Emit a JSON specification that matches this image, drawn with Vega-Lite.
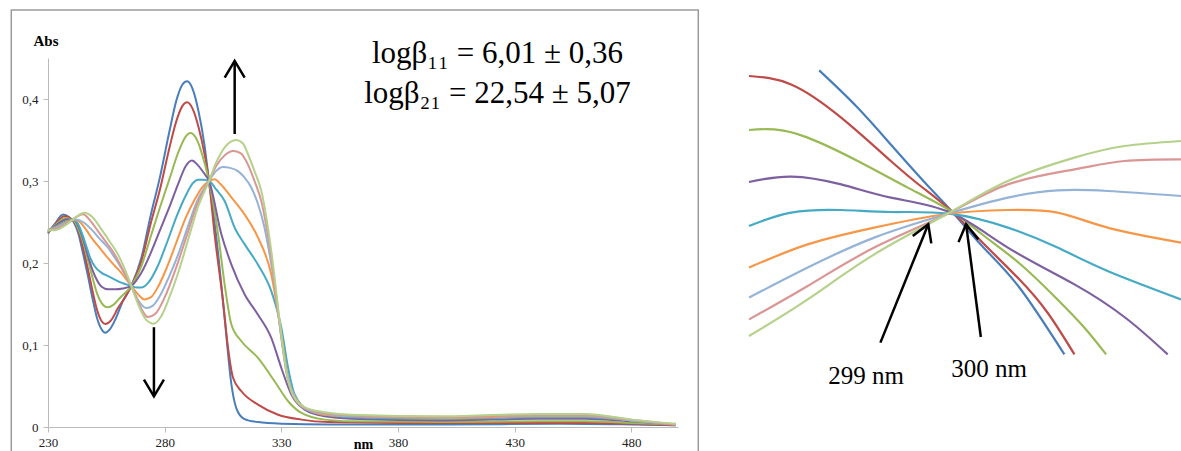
{
"$schema": "https://vega.github.io/schema/vega-lite/v6.json",
"padding": {"left": 10, "top": 9, "right": 0, "bottom": 0},
"config": {"view": {"stroke": null}, "font": "Liberation Serif"},
"spacing": 44,
"hconcat": [
{
"width": 630, "height": 369,
"layer": [
{
"data": {"values": [{"x1": 214.27, "x2": 508.7, "y1": 0.5084, "y2": -0.06}]},
"mark": {"type": "rect", "filled": false, "stroke": "#9a9a9a", "strokeWidth": 1.5, "clip": false},
"encoding": {
"x": {"field": "x1", "type": "quantitative", "scale": {"domain": [230, 500], "nice": false, "zero": false},
"axis": {"values": [230, 280, 330, 380, 430, 480], "labelFlush": false, "labelFont": "Liberation Serif", "labelFontSize": 13, "labelColor": "#222", "labelPadding": 4, "tickSize": 5, "tickColor": "#bbb", "domainColor": "#bbb", "grid": false, "title": "nm", "titleFont": "Liberation Serif", "titleFontSize": 14, "titleFontWeight": "bold", "titleX": 315, "titleY": 17, "titleAlign": "center", "titleBaseline": "middle"}},
"x2": {"field": "x2"},
"y": {"field": "y1", "type": "quantitative", "scale": {"domain": [0, 0.45], "nice": false, "zero": false},
"axis": {"values": [0, 0.1, 0.2, 0.3, 0.4], "labelFlush": false, "labelExpr": "datum.value == 0 ? '0' : replace(format(datum.value, '.1f'), '.', ',')", "labelFont": "Liberation Serif", "labelFontSize": 13, "labelColor": "#222", "labelPadding": 5, "tickSize": 5, "tickColor": "#bbb", "domainColor": "#bbb", "grid": false, "title": "Abs", "titleFont": "Liberation Serif", "titleFontSize": 15, "titleFontWeight": "bold", "titleAngle": 0, "titleAlign": "left", "titleBaseline": "middle", "titleX": -15, "titleY": -18}},
"y2": {"field": "y2"}
}
},
{
"data": {"values": [
{"s":"s1","x":230,"y":0.236},{"s":"s1","x":233,"y":0.248},{"s":"s1","x":236.5,"y":0.259},{"s":"s1","x":239,"y":0.256},{"s":"s1","x":241,"y":0.250},{"s":"s1","x":243,"y":0.236},{"s":"s1","x":245,"y":0.212},{"s":"s1","x":247,"y":0.186},{"s":"s1","x":249,"y":0.158},{"s":"s1","x":251,"y":0.133},{"s":"s1","x":253,"y":0.119},{"s":"s1","x":254.5,"y":0.115},{"s":"s1","x":256.5,"y":0.119},{"s":"s1","x":259,"y":0.132},{"s":"s1","x":262,"y":0.153},{"s":"s1","x":265.7,"y":0.172},{"s":"s1","x":270,"y":0.206},{"s":"s1","x":274,"y":0.258},{"s":"s1","x":278,"y":0.305},{"s":"s1","x":282,"y":0.360},{"s":"s1","x":285,"y":0.398},{"s":"s1","x":287.5,"y":0.417},{"s":"s1","x":289.6,"y":0.4215},{"s":"s1","x":292,"y":0.412},{"s":"s1","x":294.5,"y":0.385},{"s":"s1","x":297,"y":0.345},{"s":"s1","x":299,"y":0.300},{"s":"s1","x":302,"y":0.235},{"s":"s1","x":305.7,"y":0.133},{"s":"s1","x":308.6,"y":0.052},{"s":"s1","x":310.7,"y":0.023},{"s":"s1","x":314,"y":0.010},{"s":"s1","x":320,"y":0.006},{"s":"s1","x":330,"y":0.004},{"s":"s1","x":350,"y":0.003},{"s":"s1","x":400,"y":0.003},{"s":"s1","x":450,"y":0.004},{"s":"s1","x":480,"y":0.003},{"s":"s1","x":499,"y":0.002},
{"s":"s2","x":230,"y":0.237},{"s":"s2","x":233,"y":0.247},{"s":"s2","x":237,"y":0.257},{"s":"s2","x":241,"y":0.251},{"s":"s2","x":243,"y":0.240},{"s":"s2","x":245,"y":0.219},{"s":"s2","x":247,"y":0.194},{"s":"s2","x":249,"y":0.167},{"s":"s2","x":251,"y":0.143},{"s":"s2","x":253,"y":0.129},{"s":"s2","x":254.6,"y":0.1256},{"s":"s2","x":257,"y":0.130},{"s":"s2","x":260,"y":0.145},{"s":"s2","x":263,"y":0.158},{"s":"s2","x":265.7,"y":0.172},{"s":"s2","x":270,"y":0.202},{"s":"s2","x":274,"y":0.248},{"s":"s2","x":278,"y":0.290},{"s":"s2","x":282,"y":0.340},{"s":"s2","x":285,"y":0.373},{"s":"s2","x":287.5,"y":0.391},{"s":"s2","x":289.6,"y":0.396},{"s":"s2","x":292,"y":0.388},{"s":"s2","x":294.5,"y":0.366},{"s":"s2","x":297,"y":0.334},{"s":"s2","x":299,"y":0.300},{"s":"s2","x":301.4,"y":0.235},{"s":"s2","x":305,"y":0.1535},{"s":"s2","x":307,"y":0.100},{"s":"s2","x":309.3,"y":0.060},{"s":"s2","x":312.9,"y":0.0436},{"s":"s2","x":320,"y":0.0273},{"s":"s2","x":328.6,"y":0.015},{"s":"s2","x":338.6,"y":0.009},{"s":"s2","x":350,"y":0.006},{"s":"s2","x":380,"y":0.005},{"s":"s2","x":430,"y":0.005},{"s":"s2","x":460,"y":0.005},{"s":"s2","x":480,"y":0.004},{"s":"s2","x":499,"y":0.002},
{"s":"s3","x":230,"y":0.238},{"s":"s3","x":233,"y":0.246},{"s":"s3","x":237.5,"y":0.255},{"s":"s3","x":241,"y":0.252},{"s":"s3","x":243,"y":0.242},{"s":"s3","x":245,"y":0.226},{"s":"s3","x":247,"y":0.205},{"s":"s3","x":249,"y":0.183},{"s":"s3","x":251,"y":0.163},{"s":"s3","x":253,"y":0.151},{"s":"s3","x":255.5,"y":0.146},{"s":"s3","x":258,"y":0.149},{"s":"s3","x":261,"y":0.158},{"s":"s3","x":265.7,"y":0.172},{"s":"s3","x":270,"y":0.196},{"s":"s3","x":274,"y":0.232},{"s":"s3","x":278,"y":0.268},{"s":"s3","x":282,"y":0.302},{"s":"s3","x":286,"y":0.336},{"s":"s3","x":289,"y":0.354},{"s":"s3","x":291,"y":0.3585},{"s":"s3","x":293.5,"y":0.352},{"s":"s3","x":296,"y":0.333},{"s":"s3","x":299,"y":0.300},{"s":"s3","x":302.9,"y":0.235},{"s":"s3","x":305.7,"y":0.174},{"s":"s3","x":308.6,"y":0.125},{"s":"s3","x":312.9,"y":0.1046},{"s":"s3","x":320,"y":0.0843},{"s":"s3","x":327.1,"y":0.0558},{"s":"s3","x":332.9,"y":0.0314},{"s":"s3","x":338.6,"y":0.0171},{"s":"s3","x":348.6,"y":0.009},{"s":"s3","x":360,"y":0.007},{"s":"s3","x":400,"y":0.006},{"s":"s3","x":440,"y":0.007},{"s":"s3","x":460,"y":0.007},{"s":"s3","x":480,"y":0.005},{"s":"s3","x":499,"y":0.003},
{"s":"s4","x":230,"y":0.239},{"s":"s4","x":233,"y":0.245},{"s":"s4","x":238,"y":0.253},{"s":"s4","x":241,"y":0.253},{"s":"s4","x":243,"y":0.245},{"s":"s4","x":245,"y":0.230},{"s":"s4","x":247,"y":0.210},{"s":"s4","x":249,"y":0.192},{"s":"s4","x":251,"y":0.179},{"s":"s4","x":253,"y":0.171},{"s":"s4","x":255.7,"y":0.168},{"s":"s4","x":259,"y":0.168},{"s":"s4","x":262,"y":0.169},{"s":"s4","x":265.7,"y":0.172},{"s":"s4","x":270,"y":0.188},{"s":"s4","x":274,"y":0.212},{"s":"s4","x":278,"y":0.240},{"s":"s4","x":282,"y":0.268},{"s":"s4","x":286,"y":0.298},{"s":"s4","x":289,"y":0.318},{"s":"s4","x":291.7,"y":0.325},{"s":"s4","x":294,"y":0.320},{"s":"s4","x":296.5,"y":0.311},{"s":"s4","x":299,"y":0.300},{"s":"s4","x":304.3,"y":0.235},{"s":"s4","x":308.6,"y":0.198},{"s":"s4","x":314.3,"y":0.1617},{"s":"s4","x":320,"y":0.137},{"s":"s4","x":325.7,"y":0.1087},{"s":"s4","x":330,"y":0.072},{"s":"s4","x":334.3,"y":0.0396},{"s":"s4","x":340,"y":0.0212},{"s":"s4","x":348.6,"y":0.013},{"s":"s4","x":360,"y":0.010},{"s":"s4","x":400,"y":0.008},{"s":"s4","x":440,"y":0.010},{"s":"s4","x":460,"y":0.010},{"s":"s4","x":480,"y":0.007},{"s":"s4","x":499,"y":0.003},
{"s":"s5","x":230,"y":0.240},{"s":"s5","x":233,"y":0.244},{"s":"s5","x":238,"y":0.251},{"s":"s5","x":241,"y":0.253},{"s":"s5","x":243,"y":0.247},{"s":"s5","x":245.7,"y":0.2267},{"s":"s5","x":248,"y":0.207},{"s":"s5","x":250,"y":0.196},{"s":"s5","x":253,"y":0.188},{"s":"s5","x":255.7,"y":0.184},{"s":"s5","x":258.5,"y":0.180},{"s":"s5","x":261.4,"y":0.176},{"s":"s5","x":265.7,"y":0.172},{"s":"s5","x":268,"y":0.170},{"s":"s5","x":270,"y":0.170},{"s":"s5","x":273,"y":0.176},{"s":"s5","x":277,"y":0.196},{"s":"s5","x":281,"y":0.225},{"s":"s5","x":285,"y":0.256},{"s":"s5","x":289,"y":0.282},{"s":"s5","x":292,"y":0.297},{"s":"s5","x":294.3,"y":0.3016},{"s":"s5","x":296.5,"y":0.3015},{"s":"s5","x":299,"y":0.300},{"s":"s5","x":302,"y":0.290},{"s":"s5","x":305.7,"y":0.2756},{"s":"s5","x":310,"y":0.243},{"s":"s5","x":314.3,"y":0.2227},{"s":"s5","x":320,"y":0.198},{"s":"s5","x":325.7,"y":0.1657},{"s":"s5","x":330,"y":0.121},{"s":"s5","x":332.9,"y":0.072},{"s":"s5","x":335.7,"y":0.0396},{"s":"s5","x":341.4,"y":0.0212},{"s":"s5","x":348.6,"y":0.0151},{"s":"s5","x":360,"y":0.012},{"s":"s5","x":400,"y":0.010},{"s":"s5","x":440,"y":0.012},{"s":"s5","x":460,"y":0.012},{"s":"s5","x":480,"y":0.008},{"s":"s5","x":499,"y":0.003},
{"s":"s6","x":230,"y":0.240},{"s":"s6","x":233,"y":0.243},{"s":"s6","x":238,"y":0.250},{"s":"s6","x":241,"y":0.253},{"s":"s6","x":244,"y":0.249},{"s":"s6","x":246.5,"y":0.240},{"s":"s6","x":248.6,"y":0.231},{"s":"s6","x":252,"y":0.219},{"s":"s6","x":255.7,"y":0.206},{"s":"s6","x":258.5,"y":0.197},{"s":"s6","x":261.4,"y":0.188},{"s":"s6","x":265.7,"y":0.172},{"s":"s6","x":268.5,"y":0.162},{"s":"s6","x":271.4,"y":0.1556},{"s":"s6","x":274,"y":0.158},{"s":"s6","x":277,"y":0.170},{"s":"s6","x":281,"y":0.195},{"s":"s6","x":285,"y":0.225},{"s":"s6","x":289,"y":0.255},{"s":"s6","x":293,"y":0.278},{"s":"s6","x":296,"y":0.292},{"s":"s6","x":299,"y":0.300},{"s":"s6","x":301.4,"y":0.302},{"s":"s6","x":304,"y":0.296},{"s":"s6","x":308.6,"y":0.280},{"s":"s6","x":314.3,"y":0.259},{"s":"s6","x":320,"y":0.231},{"s":"s6","x":325.7,"y":0.186},{"s":"s6","x":330,"y":0.113},{"s":"s6","x":332.9,"y":0.060},{"s":"s6","x":337.1,"y":0.0314},{"s":"s6","x":342.9,"y":0.0192},{"s":"s6","x":348.6,"y":0.015},{"s":"s6","x":360,"y":0.013},{"s":"s6","x":400,"y":0.011},{"s":"s6","x":440,"y":0.013},{"s":"s6","x":460,"y":0.013},{"s":"s6","x":480,"y":0.008},{"s":"s6","x":499,"y":0.003},
{"s":"s7","x":230,"y":0.240},{"s":"s7","x":233,"y":0.242},{"s":"s7","x":238,"y":0.249},{"s":"s7","x":242,"y":0.253},{"s":"s7","x":245,"y":0.250},{"s":"s7","x":248.6,"y":0.241},{"s":"s7","x":252,"y":0.230},{"s":"s7","x":255.7,"y":0.2186},{"s":"s7","x":258.5,"y":0.207},{"s":"s7","x":261.4,"y":0.194},{"s":"s7","x":265.7,"y":0.172},{"s":"s7","x":269,"y":0.153},{"s":"s7","x":272.1,"y":0.145},{"s":"s7","x":275,"y":0.148},{"s":"s7","x":278,"y":0.160},{"s":"s7","x":282,"y":0.184},{"s":"s7","x":286,"y":0.212},{"s":"s7","x":290,"y":0.245},{"s":"s7","x":294,"y":0.276},{"s":"s7","x":299,"y":0.300},{"s":"s7","x":302,"y":0.312},{"s":"s7","x":305,"y":0.317},{"s":"s7","x":308,"y":0.316},{"s":"s7","x":311.4,"y":0.312},{"s":"s7","x":314,"y":0.305},{"s":"s7","x":317.1,"y":0.292},{"s":"s7","x":320,"y":0.272},{"s":"s7","x":322.8,"y":0.243},{"s":"s7","x":325,"y":0.210},{"s":"s7","x":327.1,"y":0.174},{"s":"s7","x":330,"y":0.109},{"s":"s7","x":332.9,"y":0.060},{"s":"s7","x":336,"y":0.035},{"s":"s7","x":341,"y":0.021},{"s":"s7","x":348.6,"y":0.016},{"s":"s7","x":360,"y":0.013},{"s":"s7","x":400,"y":0.012},{"s":"s7","x":440,"y":0.014},{"s":"s7","x":460,"y":0.014},{"s":"s7","x":480,"y":0.008},{"s":"s7","x":499,"y":0.003},
{"s":"s8","x":230,"y":0.240},{"s":"s8","x":233,"y":0.241},{"s":"s8","x":238,"y":0.248},{"s":"s8","x":242,"y":0.256},{"s":"s8","x":245,"y":0.2593},{"s":"s8","x":248,"y":0.252},{"s":"s8","x":251.4,"y":0.239},{"s":"s8","x":255,"y":0.225},{"s":"s8","x":258.6,"y":0.2105},{"s":"s8","x":262,"y":0.192},{"s":"s8","x":265.7,"y":0.172},{"s":"s8","x":269,"y":0.150},{"s":"s8","x":272.9,"y":0.134},{"s":"s8","x":276,"y":0.138},{"s":"s8","x":280,"y":0.158},{"s":"s8","x":285,"y":0.195},{"s":"s8","x":290,"y":0.238},{"s":"s8","x":294,"y":0.272},{"s":"s8","x":299,"y":0.300},{"s":"s8","x":302,"y":0.318},{"s":"s8","x":306,"y":0.332},{"s":"s8","x":309.3,"y":0.3366},{"s":"s8","x":312.5,"y":0.334},{"s":"s8","x":315.7,"y":0.320},{"s":"s8","x":318.5,"y":0.300},{"s":"s8","x":321.4,"y":0.2756},{"s":"s8","x":325.7,"y":0.206},{"s":"s8","x":329.3,"y":0.125},{"s":"s8","x":332.1,"y":0.068},{"s":"s8","x":335,"y":0.038},{"s":"s8","x":340,"y":0.023},{"s":"s8","x":348.6,"y":0.017},{"s":"s8","x":360,"y":0.014},{"s":"s8","x":400,"y":0.012},{"s":"s8","x":440,"y":0.015},{"s":"s8","x":460,"y":0.015},{"s":"s8","x":480,"y":0.009},{"s":"s8","x":499,"y":0.003},
{"s":"s9","x":230,"y":0.240},{"s":"s9","x":233,"y":0.240},{"s":"s9","x":238,"y":0.247},{"s":"s9","x":242,"y":0.256},{"s":"s9","x":245.7,"y":0.2613},{"s":"s9","x":249,"y":0.256},{"s":"s9","x":252.9,"y":0.241},{"s":"s9","x":256.5,"y":0.226},{"s":"s9","x":260,"y":0.2105},{"s":"s9","x":263,"y":0.192},{"s":"s9","x":265.7,"y":0.172},{"s":"s9","x":269,"y":0.147},{"s":"s9","x":272,"y":0.131},{"s":"s9","x":275.4,"y":0.126},{"s":"s9","x":278.5,"y":0.135},{"s":"s9","x":282,"y":0.158},{"s":"s9","x":286,"y":0.190},{"s":"s9","x":290,"y":0.228},{"s":"s9","x":294,"y":0.266},{"s":"s9","x":299,"y":0.300},{"s":"s9","x":302,"y":0.322},{"s":"s9","x":306,"y":0.342},{"s":"s9","x":310.7,"y":0.350},{"s":"s9","x":313.5,"y":0.346},{"s":"s9","x":315.7,"y":0.3326},{"s":"s9","x":318.5,"y":0.312},{"s":"s9","x":321.4,"y":0.288},{"s":"s9","x":325.7,"y":0.2145},{"s":"s9","x":329.3,"y":0.129},{"s":"s9","x":332.1,"y":0.068},{"s":"s9","x":335,"y":0.039},{"s":"s9","x":340,"y":0.024},{"s":"s9","x":348.6,"y":0.018},{"s":"s9","x":360,"y":0.015},{"s":"s9","x":400,"y":0.013},{"s":"s9","x":440,"y":0.016},{"s":"s9","x":460,"y":0.016},{"s":"s9","x":480,"y":0.009},{"s":"s9","x":499,"y":0.004}
]},
"mark": {"type": "line", "interpolate": "monotone", "strokeWidth": 2},
"encoding": {
"x": {"field": "x", "type": "quantitative"},
"y": {"field": "y", "type": "quantitative"},
"color": {"field": "s", "type": "nominal", "scale": {"domain": ["s1","s2","s3","s4","s5","s6","s7","s8","s9"], "range": ["#4A7EBB","#BE4B48","#98B954","#7D60A0","#46AAC5","#F79646","#95B3D7","#D99694","#B5D18B"]}, "legend": null}
}
},
{
"data": {"values": [{"x": 310, "y": 0.3573, "y2": 0.446}, {"x": 275.4, "y": 0.1217, "y2": 0.038}]},
"mark": {"type": "rule", "color": "black", "strokeWidth": 2.5},
"encoding": {"x": {"field": "x", "type": "quantitative"}, "y": {"field": "y", "type": "quantitative"}, "y2": {"field": "y2"}}
},
{
"data": {"values": [{"x": 310, "y": 0.4465, "a": 0}, {"x": 275.4, "y": 0.0374, "a": 180}]},
"mark": {"type": "point", "shape": "M-1,1.67L0,0L1,1.67", "filled": false, "stroke": "black", "strokeWidth": 2.5, "size": 400, "opacity": 1},
"encoding": {"x": {"field": "x", "type": "quantitative"}, "y": {"field": "y", "type": "quantitative"}, "angle": {"field": "a", "type": "quantitative", "scale": null}}
},
{
"data": {"values": [{"x": 422.6, "y": 0.4444, "t": "logβ₁₁ = 6,01 ± 0,36"}, {"x": 422.6, "y": 0.3956, "t": "logβ₂₁ = 22,54 ± 5,07"}]},
"mark": {"type": "text", "font": "Liberation Serif", "fontSize": 31, "align": "center", "baseline": "alphabetic", "color": "black"},
"encoding": {"x": {"field": "x", "type": "quantitative"}, "y": {"field": "y", "type": "quantitative"}, "text": {"field": "t"}}
}
]
},
{
"width": 432, "height": 341,
"layer": [
{
"data": {"values": [
{"s":"s1","x":295.95,"y":0.3693},{"s":"s1","x":297.0,"y":0.351},{"s":"s1","x":298.0,"y":0.331},{"s":"s1","x":299.0,"y":0.311},{"s":"s1","x":299.65,"y":0.2985},{"s":"s1","x":300.5,"y":0.281},{"s":"s1","x":301.5,"y":0.261},{"s":"s1","x":302.76,"y":0.2273},
{"s":"s2","x":294.0,"y":0.3665},{"s":"s2","x":295.17,"y":0.3623},{"s":"s2","x":296.56,"y":0.3457},{"s":"s2","x":297.94,"y":0.324},{"s":"s2","x":298.8,"y":0.311},{"s":"s2","x":299.65,"y":0.2985},{"s":"s2","x":300.5,"y":0.283},{"s":"s2","x":301.5,"y":0.265},{"s":"s2","x":302.3,"y":0.248},{"s":"s2","x":303.04,"y":0.2273},
{"s":"s3","x":294.0,"y":0.3395},{"s":"s3","x":294.7,"y":0.3398},{"s":"s3","x":295.63,"y":0.3357},{"s":"s3","x":297.02,"y":0.324},{"s":"s3","x":298.41,"y":0.3107},{"s":"s3","x":299.65,"y":0.2985},{"s":"s3","x":300.5,"y":0.287},{"s":"s3","x":301.5,"y":0.273},{"s":"s3","x":302.5,"y":0.256},{"s":"s3","x":303.3,"y":0.241},{"s":"s3","x":303.92,"y":0.2273},
{"s":"s4","x":294.0,"y":0.3135},{"s":"s4","x":295.17,"y":0.3162},{"s":"s4","x":296.56,"y":0.3123},{"s":"s4","x":297.94,"y":0.3057},{"s":"s4","x":299.6,"y":0.2982},{"s":"s4","x":301.19,"y":0.2807},{"s":"s4","x":303.04,"y":0.2623},{"s":"s4","x":304.5,"y":0.245},{"s":"s4","x":305.63,"y":0.2273},
{"s":"s5","x":294.0,"y":0.2915},{"s":"s5","x":295.17,"y":0.2982},{"s":"s5","x":296.56,"y":0.2995},{"s":"s5","x":297.94,"y":0.2985},{"s":"s5","x":299.55,"y":0.2977},{"s":"s5","x":301.19,"y":0.2907},{"s":"s5","x":302.57,"y":0.2807},{"s":"s5","x":303.96,"y":0.269},{"s":"s5","x":306,"y":0.2548},
{"s":"s6","x":294.0,"y":0.2707},{"s":"s6","x":295.63,"y":0.2823},{"s":"s6","x":297.48,"y":0.2907},{"s":"s6","x":299.5,"y":0.2975},{"s":"s6","x":301.19,"y":0.2995},{"s":"s6","x":302.57,"y":0.2982},{"s":"s6","x":303.96,"y":0.2907},{"s":"s6","x":306,"y":0.2832},
{"s":"s7","x":294,"y":0.2557},{"s":"s7","x":295.63,"y":0.2707},{"s":"s7","x":297.48,"y":0.2857},{"s":"s7","x":299.5,"y":0.2975},{"s":"s7","x":301.19,"y":0.3057},{"s":"s7","x":302.57,"y":0.3093},{"s":"s7","x":303.96,"y":0.309},{"s":"s7","x":306,"y":0.3065},
{"s":"s8","x":294,"y":0.2448},{"s":"s8","x":295.63,"y":0.2615},{"s":"s8","x":297.48,"y":0.2807},{"s":"s8","x":299.5,"y":0.2975},{"s":"s8","x":301.19,"y":0.3123},{"s":"s8","x":303.04,"y":0.3198},{"s":"s8","x":304.43,"y":0.324},{"s":"s8","x":306,"y":0.3248},
{"s":"s9","x":294,"y":0.2365},{"s":"s9","x":295.63,"y":0.2548},{"s":"s9","x":297.48,"y":0.2773},{"s":"s9","x":299.5,"y":0.2975},{"s":"s9","x":301.19,"y":0.314},{"s":"s9","x":303.04,"y":0.3257},{"s":"s9","x":304.43,"y":0.3315},{"s":"s9","x":306,"y":0.334}
]},
"mark": {"type": "line", "interpolate": "natural", "strokeWidth": 2.2},
"encoding": {
"x": {"field": "x", "type": "quantitative", "scale": {"domain": [294, 306], "nice": false, "zero": false}, "axis": null},
"y": {"field": "y", "type": "quantitative", "scale": {"domain": [0.205, 0.3755], "nice": false, "zero": false}, "axis": null},
"color": {"field": "s", "type": "nominal", "scale": {"domain": ["s1","s2","s3","s4","s5","s6","s7","s8","s9"], "range": ["#4A7EBB","#BE4B48","#98B954","#7D60A0","#46AAC5","#F79646","#95B3D7","#D99694","#B5D18B"]}, "legend": null}
}
},
{
"data": {"values": [{"x": 297.65, "y": 0.2332, "x2": 298.98, "y2": 0.2924}, {"x": 300.44, "y": 0.236, "x2": 300.03, "y2": 0.2924}]},
"mark": {"type": "rule", "color": "black", "strokeWidth": 2.5},
"encoding": {"x": {"field": "x", "type": "quantitative"}, "y": {"field": "y", "type": "quantitative"}, "x2": {"field": "x2"}, "y2": {"field": "y2"}}
},
{
"data": {"values": [{"x": 298.98, "y": 0.2924, "a": 22}, {"x": 300.03, "y": 0.2924, "a": 352}]},
"mark": {"type": "point", "shape": "M-1,1.67L0,0L1,1.67", "filled": false, "stroke": "black", "strokeWidth": 2.5, "size": 400, "opacity": 1},
"encoding": {"x": {"field": "x", "type": "quantitative"}, "y": {"field": "y", "type": "quantitative"}, "angle": {"field": "a", "type": "quantitative", "scale": null}}
},
{
"data": {"values": [{"x": 297.25, "y": 0.2165, "t": "299 nm"}, {"x": 300.67, "y": 0.22, "t": "300 nm"}]},
"mark": {"type": "text", "font": "Liberation Serif", "fontSize": 25, "align": "center", "baseline": "middle", "color": "black"},
"encoding": {"x": {"field": "x", "type": "quantitative"}, "y": {"field": "y", "type": "quantitative"}, "text": {"field": "t"}}
}
]
}
]
}
